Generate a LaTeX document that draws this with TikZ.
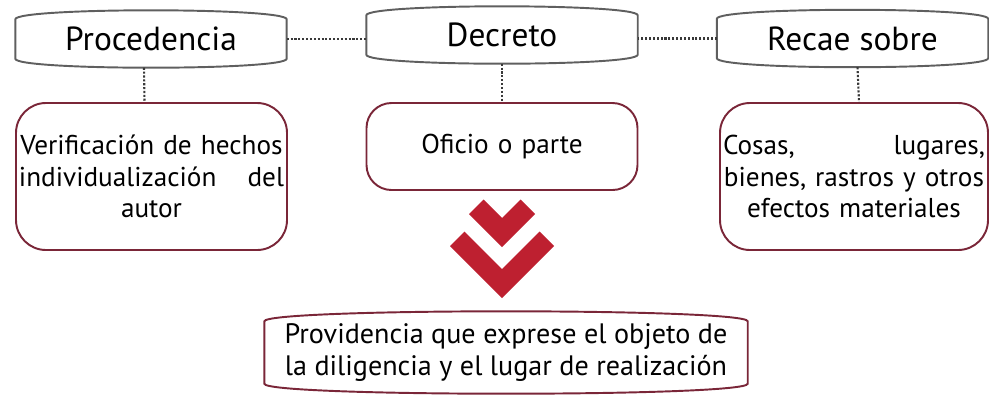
\documentclass[tikz,border=0pt]{standalone}
\usepackage{tikz, xcolor}
\usepackage{fontspec}
\setmainfont{PT Sans}
\definecolor{framegray}{RGB}{95,95,95}
\definecolor{maroon}{RGB}{122,38,56}
\definecolor{chevred}{RGB}{190,32,48}
\newcommand{\tabframe}[3][0.18cm]{%
  \draw[#3] ([yshift=-#1]#2.north west) .. controls ([yshift=#1/3]#2.north west) and ([yshift=#1/3]#2.north east) .. ([yshift=-#1]#2.north east)
  -- ([yshift=#1]#2.south east) .. controls ([yshift=-#1/3]#2.south east) and ([yshift=-#1/3]#2.south west) .. ([yshift=#1]#2.south west) -- cycle;}

\begin{document}
\begin{tikzpicture}[thick, x=0.2mm, y=-0.2mm]
\tikzstyle{vertexh}=[rectangle, minimum width=5.4cm, minimum height=1.12cm, inner sep=0pt, font=\fontsize{19}{22}\selectfont]
\tikzstyle{vertexl}=[rectangle, draw=maroon, line width=1.1pt, rounded corners=0.6cm, minimum width=5.42cm, inner sep=0pt, text width=5.3cm, align=center, font=\fontsize{15.5}{18}\selectfont]
\tikzstyle{vertexb}=[rectangle, minimum width=9.64cm, minimum height=1.62cm, inner sep=0pt, align=center, font=\fontsize{16}{18}\selectfont]
\tikzstyle{framestyle}=[draw=framegray, line width=1.1pt]
\tikzstyle{drawstyle}=[densely dotted, line width=1.2pt, color=framegray!60!black]
\useasboundingbox (0,0) rectangle (989,394);

\node[vertexh] (T0x0) at (151,39) {Procedencia};
\node[vertexh] (T1x0) at (502,35) {Decreto};
\node[vertexh] (T2x0) at (852.5,38.5) {Recae sobre};
\tabframe{T0x0}{framestyle}
\tabframe{T1x0}{framestyle}
\tabframe{T2x0}{framestyle}
\draw[drawstyle] (T0x0.east) -- (T0x0.east -| T1x0.west);
\draw[drawstyle] (T2x0.west) -- (T2x0.west -| T1x0.east);

\node[vertexl, minimum height=2.94cm] (B0x1) at (151.5,176.5) {Verificación de hechos\\individualización\hfill del\\autor};
\node[vertexl, minimum height=1.74cm, rounded corners=0.5cm] (B1x1) at (502,146.5) {Oficio o parte};
\node[vertexl, minimum height=2.94cm, minimum width=5.36cm, text width=5.24cm] (B2x1) at (854,176.5) {Cosas,\hfill lugares,\\bienes, rastros y otros\\efectos materiales};
\draw[drawstyle] ([xshift=-0.14cm]T0x0.south) -- ([xshift=-0.14cm]B0x1.north);
\draw[drawstyle] (T1x0.south) -- (B1x1.north);
\draw[drawstyle] ([xshift=0.1cm]T2x0.south) -- ([xshift=0.1cm]B2x1.north);

\fill[chevred] (502,247) -- (469,214) -- (483.5,199.5) -- (502,218) -- (520.5,199.5) -- (535,214) -- cycle;
\fill[chevred] (502,298) -- (450,246) -- (464.5,231.5) -- (502,269) -- (539.5,231.5) -- (554,246) -- cycle;

\node[vertexb] (B1x2) at (506,352.5) {Providencia que exprese el objeto de\\la diligencia y el lugar de realización};
\tabframe[0.2cm]{B1x2}{draw=maroon, line width=1.1pt}
\end{tikzpicture}
\end{document}
